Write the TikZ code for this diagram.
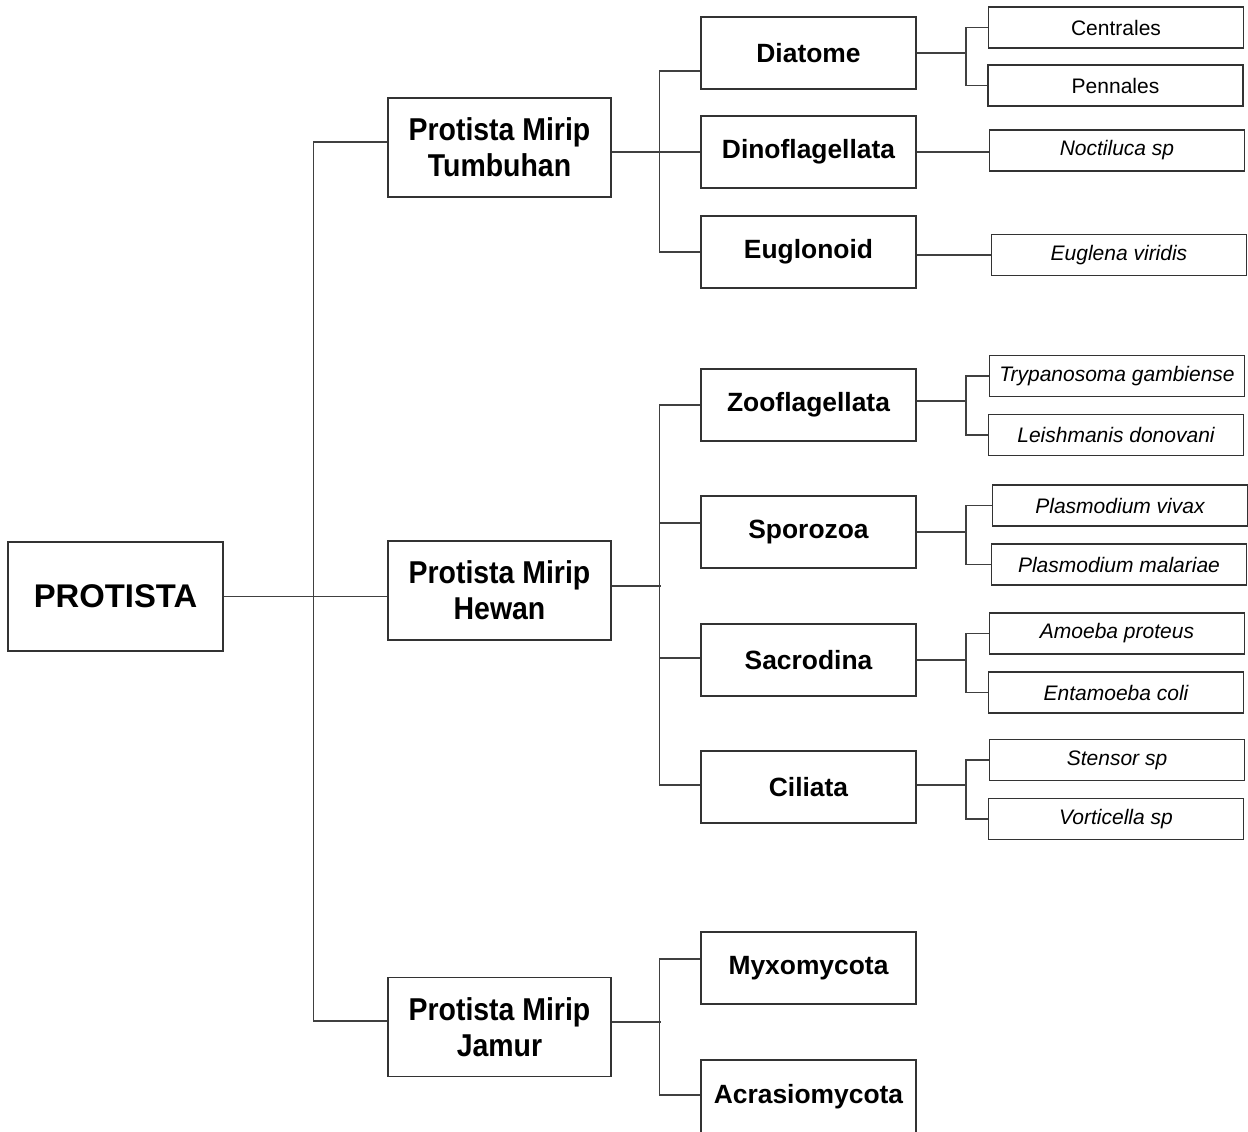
\documentclass[tikz,border=0pt]{standalone}
\usepackage{fontspec}
\setmainfont{Liberation Sans}
\newfontfamily\narrowsans{Liberation Sans}[FakeStretch=0.9]
\usepackage{tikz}
\usetikzlibrary{calc}

\begin{document}
\begin{tikzpicture}[x=0.5pt, y=-0.5pt,
    box/.style={draw=black!80, line width=0.75pt, inner sep=0pt, align=center},
    rootbox/.style={box, minimum width=107.5pt, minimum height=54.5pt,
        font=\bfseries\fontsize{16.4}{19}\selectfont},
    groupbox/.style={box, minimum width=111.5pt, minimum height=49.5pt,
        font=\narrowsans\bfseries\fontsize{15.8}{18}\selectfont},
    classbox/.style={box, minimum width=107.5pt, minimum height=36pt,
        font=\bfseries\fontsize{13.2}{16}\selectfont},
    speciesbox/.style={box, minimum width=127.5pt, minimum height=20.5pt,
        font=\fontsize{10.5}{12}\selectfont},
    link/.style={draw=black!75, line width=0.75pt}]

    \useasboundingbox (0,0) rectangle (1248,1131);

    % --- ROOT and the three groups ---
    \node[rootbox] (root) at (115.5,596.5) {PROTISTA};
    \node[groupbox] (tumbuhan) at (499.5,147.5) {Protista Mirip\\Tumbuhan};
    \node[groupbox] (hewan) at (499.5,590.5) {Protista Mirip\\Hewan};
    \node[groupbox] (jamur) at (499.5,1027) {Protista Mirip\\Jamur};

    \draw[link] (root.east) -- (root.east -| hewan.west);
    \draw[link] ([yshift=2.75pt]tumbuhan.west) -- ++(-74,0) |- ([yshift=3pt]jamur.west);

    % --- TUMBUHAN ---
    \node[classbox] (diatome) at (808.5,53) {Diatome};
    \node[classbox] (dino) at (808.5,152) {Dinoflagellata};
    \node[classbox] (euglonoid) at (808.5,252) {Euglonoid};

    \draw[link] ([yshift=-2.25pt]tumbuhan.east) -- (dino.west);
    \draw[link] ([yshift=-9pt]diatome.west) -- ++(-41,0) |- (euglonoid.west);

    \coordinate (sp) at (966,0);

    % Diatome
    \node[speciesbox] (centrales) at (1116,27.5) {Centrales};
    \node[speciesbox] (pennales) at (1115.5,85.5) {Pennales};
    \draw[link] (diatome.east) -- (diatome.east -| sp);
    \draw[link] (centrales.west) -- (centrales.west -| sp) -- (pennales.west -| sp) -- (pennales.west);

    % Dinoflagellata, Euglonoid
    \node[speciesbox] (noctiluca) at (1117,150.5) {\itshape Noctiluca sp};
    \node[speciesbox] (euglena) at (1119,255) {\itshape Euglena viridis};
    \draw[link] (dino.east) -- (dino.east -| noctiluca.west);
    \draw[link] (euglena.west) -- (euglena.west -| euglonoid.east);

    % --- HEWAN ---
    \node[classbox] (zoo) at (808.5,405) {Zooflagellata};
    \node[classbox] (sporo) at (808.5,532) {Sporozoa};
    \node[classbox] (sacro) at (808.5,660) {Sacrodina};
    \node[classbox] (cili) at (808.5,787) {Ciliata};

    \draw[link] ([yshift=2.25pt]hewan.east) -- ++(49,0);
    \draw[link] (zoo.west) -- ++(-41,0) |- ([yshift=1pt]cili.west);
    \draw[link] ([yshift=4.5pt]sporo.west) -- ++(-41,0);
    \draw[link] ([yshift=1pt]sacro.west) -- ++(-41,0);

    % Zooflagellata
    \node[speciesbox] (trypanosoma) at (1117,376) {\itshape Trypanosoma gambiense};
    \node[speciesbox] (leishmanis) at (1116,435) {\itshape Leishmanis donovani};
    \draw[link] ([yshift=2pt]zoo.east) -- ([yshift=2pt]zoo.east -| sp);
    \draw[link] (trypanosoma.west) -- (trypanosoma.west -| sp) -- (leishmanis.west -| sp) -- (leishmanis.west);

    % Sporozoa
    \node[speciesbox] (vivax) at (1120,505.5) {\itshape Plasmodium vivax};
    \node[speciesbox] (malariae) at (1119,564.5) {\itshape Plasmodium malariae};
    \draw[link] (sporo.east) -- (sporo.east -| sp);
    \draw[link] (vivax.west) -- (vivax.west -| sp) -- (malariae.west -| sp) -- (malariae.west);

    % Sacrodina
    \node[speciesbox] (amoeba) at (1117,633.5) {\itshape Amoeba proteus};
    \node[speciesbox] (entamoeba) at (1116,692.5) {\itshape Entamoeba coli};
    \draw[link] (sacro.east) -- (sacro.east -| sp);
    \draw[link] (amoeba.west) -- (amoeba.west -| sp) -- (entamoeba.west -| sp) -- (entamoeba.west);

    % Ciliata
    \node[speciesbox] (stensor) at (1117,760) {\itshape Stensor sp};
    \node[speciesbox] (vorticella) at (1116,819) {\itshape Vorticella sp};
    \draw[link] ([yshift=1pt]cili.east) -- ([yshift=1pt]cili.east -| sp);
    \draw[link] (stensor.west) -- (stensor.west -| sp) -- (vorticella.west -| sp) -- (vorticella.west);

    % --- JAMUR ---
    \node[classbox] (myxo) at (808.5,968) {Myxomycota};
    \node[classbox, minimum height=37pt] (acras) at (808.5,1097) {Acrasiomycota};

    \draw[link] ([yshift=2.5pt]jamur.east) -- ++(49,0);
    \draw[link] ([yshift=4.5pt]myxo.west) -- ++(-41,0) |- ([yshift=1pt]acras.west);

\end{tikzpicture}
\end{document}
